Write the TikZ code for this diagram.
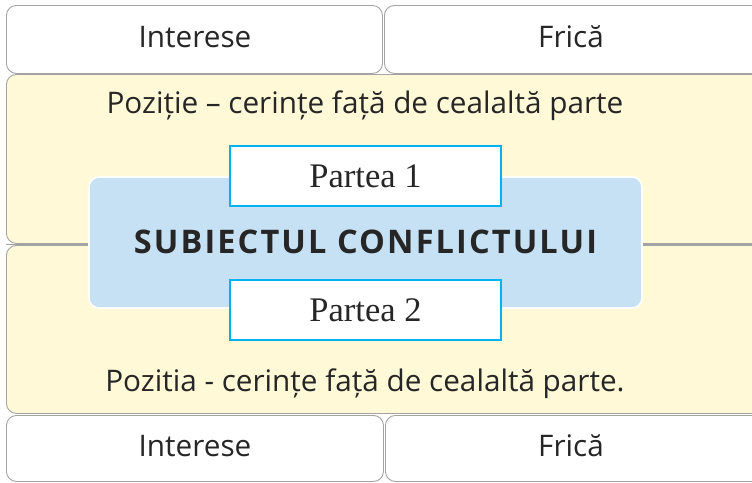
\documentclass[tikz,border=0pt]{standalone}
\usepackage{fontspec}
\setmainfont{Open Sans}
\newfontfamily\partfont{Liberation Serif}
\newfontfamily\subjfont[LetterSpace=6.5]{Open Sans}
\definecolor{boxgray}{HTML}{A3A3A3}
\definecolor{yellowbg}{HTML}{FFF9D7}
\definecolor{bluebg}{HTML}{C6E0F4}
\definecolor{cyanline}{HTML}{00B2EF}
\definecolor{txt}{HTML}{262626}
\begin{document}
\begin{tikzpicture}[x=1pt,y=-1pt,
  whitebox/.style={draw=boxgray,fill=white,line width=0.9pt,rounded corners=10pt,anchor=north west,inner sep=0pt},
  yellowbox/.style={draw=boxgray,fill=yellowbg,line width=0.9pt,rounded corners=10pt,anchor=north west,inner sep=0pt},
  label/.style={text=txt,inner sep=0pt,font=\fontsize{29.7}{34}\selectfont},
  partbox/.style={draw=cyanline,fill=white,line width=2.2pt,minimum width=271pt,minimum height=60pt,inner sep=0pt,text=txt,font=\partfont\fontsize{34.5}{38}\selectfont}]
\useasboundingbox (0,0) rectangle (752,482);
\clip (0,0) rectangle (752,482);
\fill[white] (0,0) rectangle (752,482);
% top row
\node[whitebox,minimum width=376pt,minimum height=68pt] (t1) at (6,5) {};
\node[whitebox,minimum width=400pt,minimum height=68pt] (t2) at (384,5) {};
% yellow
\node[yellowbox,minimum width=790pt,minimum height=169pt] (y1) at (6,74) {};
\node[yellowbox,minimum width=790pt,minimum height=168pt] (y2) at (6,245) {};
% bottom row
\node[whitebox,minimum width=377pt,minimum height=66pt] (b1) at (6,415) {};
\node[whitebox,minimum width=400pt,minimum height=66pt] (b2) at (385,415) {};
% connector lines
\coordinate (lft) at (6,244);
\coordinate (rgt) at (752,244);
% blue box
\node[draw=white,fill=bluebg,line width=1.6pt,rounded corners=10pt,minimum width=553pt,minimum height=131pt,inner sep=0pt] (subj) at (365.5,242.5) {};
\draw[boxgray,line width=0.9pt] (lft) -- (subj.west |- lft);
\draw[boxgray,line width=0.9pt] (subj.east |- rgt) -- (rgt);
\node[text=txt,inner sep=0pt,font=\subjfont\bfseries\fontsize{32.5}{36}\selectfont] (st) at (365.5,242) {SUBIECTUL CONFLICTULUI};
% parts
\node[partbox] (p1) at (365.5,176) {Partea 1};
\node[partbox] (p2) at (365.5,310) {Partea 2};
% labels
\node[label] (l1) at (195,37) {Interese};
\node[label] (l2) at (571,37) {Frică};
\node[label] (l3) at (365,106) {Poziție – cerințe față de cealaltă parte};
\node[label] (l4) at (365,384) {Pozitia - cerințe față de cealaltă parte.};
\node[label] (l5) at (195,446) {Interese};
\node[label] (l6) at (571,446) {Frică};
\end{tikzpicture}
\end{document}
